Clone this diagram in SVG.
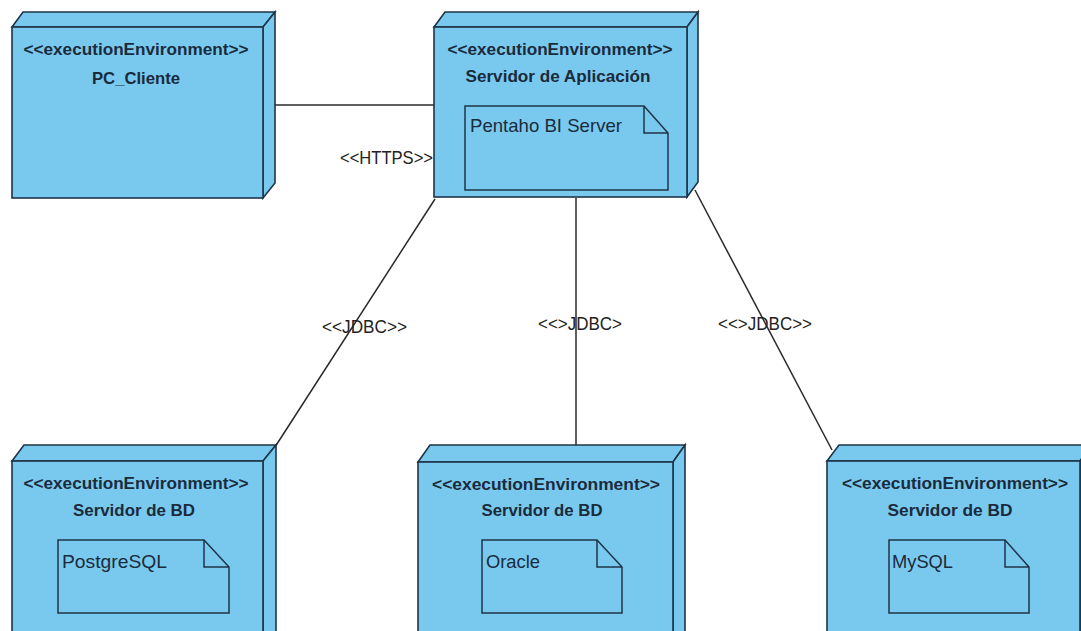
<svg xmlns="http://www.w3.org/2000/svg" width="1081" height="631" viewBox="0 0 1081 631">
<style>
.face{fill:#79C9EF;stroke:#1F3448;stroke-width:1.6;stroke-linejoin:miter}
.art{fill:#79C9EF;stroke:#1F3448;stroke-width:1.5}
.ster{font-family:"Liberation Sans",Arial,sans-serif;font-weight:bold;font-size:16px;fill:#1B2B3B;text-anchor:middle}
.name{font-family:"Liberation Sans",Arial,sans-serif;font-weight:bold;font-size:17px;fill:#1B2B3B;text-anchor:middle}
.atxt{font-family:"Liberation Sans",Arial,sans-serif;font-size:19px;fill:#1B2B3B}
.lbl{font-family:"Liberation Sans",Arial,sans-serif;font-size:18px;fill:#222}
.conn{stroke:#2a2a2a;stroke-width:1.5;fill:none}
</style>
<rect width="1081" height="631" fill="#ffffff"/>
<g id="connectors">
<line class="conn" x1="275" y1="105" x2="434" y2="105"/>
<line class="conn" x1="435" y1="199" x2="275" y2="447"/>
<line class="conn" x1="576" y1="198" x2="576" y2="446"/>
<line class="conn" x1="695" y1="190" x2="832" y2="450"/>
<text class="lbl" x="340" y="164" textLength="93" lengthAdjust="spacingAndGlyphs">&lt;&lt;HTTPS&gt;&gt;</text>
<text class="lbl" x="322" y="333" textLength="85" lengthAdjust="spacingAndGlyphs">&lt;&lt;JDBC&gt;&gt;</text>
<text class="lbl" x="538" y="330" textLength="84" lengthAdjust="spacingAndGlyphs">&lt;&lt;&gt;JDBC&gt;</text>
<text class="lbl" x="718" y="330" textLength="94" lengthAdjust="spacingAndGlyphs">&lt;&lt;&gt;JDBC&gt;&gt;</text>
</g>
<g id="pc_cliente">
<polygon class="face" points="12,27 23,12 275,12 263,27"/>
<polygon class="face" points="263,27 275,12 275,183 263,198"/>
<rect class="face" x="12" y="27" width="251" height="171"/>
<text class="ster" x="136" y="55" textLength="225" lengthAdjust="spacingAndGlyphs">&lt;&lt;executionEnvironment&gt;&gt;</text>
<text class="name" x="136" y="84" textLength="88" lengthAdjust="spacingAndGlyphs">PC_Cliente</text>
</g>
<g id="servidor_aplicacion">
<polygon class="face" points="434,27 445,12 698,12 687,27"/>
<polygon class="face" points="687,27 698,12 698,182 687,197"/>
<rect class="face" x="434" y="27" width="253" height="170"/>
<text class="ster" x="560" y="55" textLength="225" lengthAdjust="spacingAndGlyphs">&lt;&lt;executionEnvironment&gt;&gt;</text>
<text class="name" x="558" y="82" textLength="185" lengthAdjust="spacingAndGlyphs">Servidor de Aplicación</text>
<path class="art" d="M465,106 H644 L668,133 V190 H465 Z M644,106 V133 H668"/>
<text class="atxt" x="470" y="132" textLength="152" lengthAdjust="spacingAndGlyphs">Pentaho BI Server</text>
</g>
<g id="servidor_bd_postgresql">
<polygon class="face" points="12,461 24,445 276,445 263,461"/>
<polygon class="face" points="263,461 276,445 276,640 263,640"/>
<rect class="face" x="12" y="461" width="251" height="180"/>
<text class="ster" x="136" y="489" textLength="225" lengthAdjust="spacingAndGlyphs">&lt;&lt;executionEnvironment&gt;&gt;</text>
<text class="name" x="134" y="516" textLength="122" lengthAdjust="spacingAndGlyphs">Servidor de BD</text>
<path class="art" d="M58,540 H204 L229,567 V613 H58 Z M204,540 V567 H229"/>
<text class="atxt" x="62" y="568" textLength="105" lengthAdjust="spacingAndGlyphs">PostgreSQL</text>
</g>
<g id="servidor_bd_oracle">
<polygon class="face" points="418,462 430,445 685,445 673,462"/>
<polygon class="face" points="673,462 685,445 685,640 673,640"/>
<rect class="face" x="418" y="462" width="255" height="180"/>
<text class="ster" x="546" y="490" textLength="228" lengthAdjust="spacingAndGlyphs">&lt;&lt;executionEnvironment&gt;&gt;</text>
<text class="name" x="542" y="516" textLength="121" lengthAdjust="spacingAndGlyphs">Servidor de BD</text>
<path class="art" d="M482,540 H597 L622,567 V613 H482 Z M597,540 V567 H622"/>
<text class="atxt" x="486" y="568" textLength="54" lengthAdjust="spacingAndGlyphs">Oracle</text>
</g>
<g id="servidor_bd_mysql">
<polygon class="face" points="827,461 839,445 1092,445 1080,461"/>
<polygon class="face" points="1080,461 1092,445 1092,640 1080,640"/>
<rect class="face" x="827" y="461" width="253" height="180"/>
<text class="ster" x="955" y="489" textLength="226" lengthAdjust="spacingAndGlyphs">&lt;&lt;executionEnvironment&gt;&gt;</text>
<text class="name" x="950" y="516" textLength="125" lengthAdjust="spacingAndGlyphs">Servidor de BD</text>
<path class="art" d="M889,540 H1005 L1029,567 V613 H889 Z M1005,540 V567 H1029"/>
<text class="atxt" x="892" y="568" textLength="61" lengthAdjust="spacingAndGlyphs">MySQL</text>
</g>
</svg>
